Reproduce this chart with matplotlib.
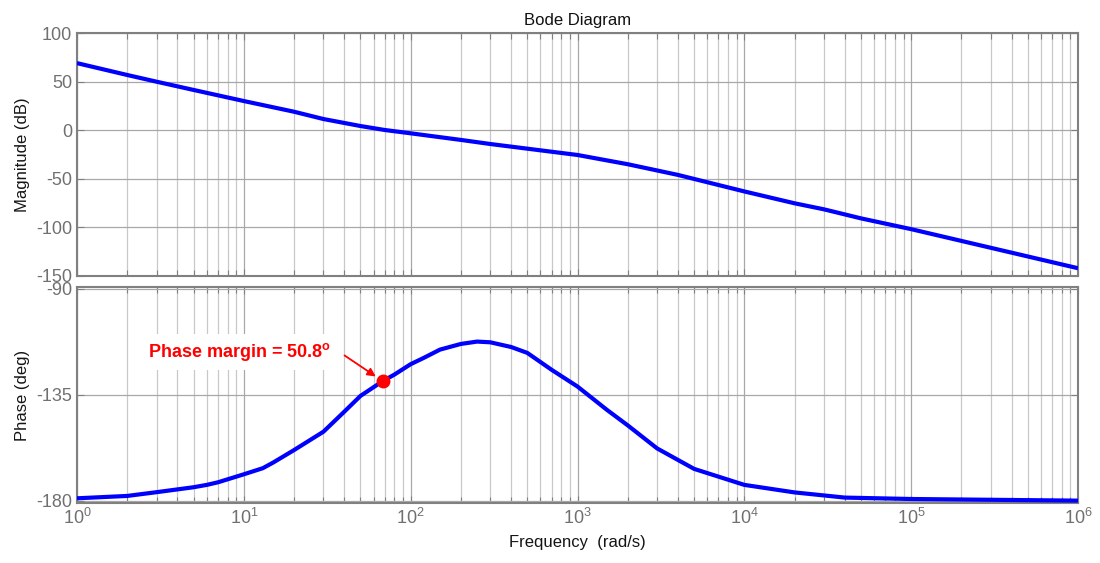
import numpy as np
import matplotlib
matplotlib.use("Agg")
import matplotlib.pyplot as plt
from matplotlib.ticker import LogLocator, FixedLocator, LogFormatterSciNotation, NullFormatter

plt.rcParams['font.family'] = ['Liberation Sans', 'DejaVu Sans']
plt.rcParams['mathtext.fontset'] = 'custom'
plt.rcParams['mathtext.rm'] = 'Liberation Sans'
plt.rcParams['mathtext.bf'] = 'Liberation Sans:bold'
plt.rcParams['mathtext.it'] = 'Liberation Sans:italic'
plt.rcParams['axes.unicode_minus'] = False

# ---- data ----
mag_freq = [1, 2, 3, 5, 10, 20, 30, 50, 70, 100, 200, 300, 500, 1000, 2000,
            4000, 10000, 20000, 30000, 50000, 100000, 1000000]
mag_db = [69, 56.8, 49.9, 41.4, 30, 19, 11.5, 4.3, 0.2, -3.2, -10, -14.2, -19,
          -25.5, -35, -46, -63, -75.2, -81.4, -90.7, -101.8, -142]

ph_freq = [1, 2, 3, 5, 6, 7, 10, 13, 15, 20, 30, 40, 50, 68, 80, 100, 120, 150,
           200, 250, 300, 400, 500, 700, 1000, 1500, 2000, 3000, 4000, 5000,
           10000, 20000, 40000, 100000, 1000000]
ph_deg = [-179, -178, -176.4, -174.3, -173.3, -172.2, -168.8, -166.2, -163.8,
          -158.5, -150.7, -142.2, -135.5, -129.2, -126.4, -122, -119.3, -115.8,
          -113.4, -112.4, -112.7, -114.7, -117.2, -124.4, -131.5, -141.4,
          -148, -157.8, -162.7, -166.5, -173.3, -176.5, -178.7, -179.3, -180]

pm_freq = 68
pm_phase = -129.2
pm_label = r'Phase margin = 50.8$^{\mathbf{o}}$'

title = 'Bode Diagram'
mag_ylabel = 'Magnitude (dB)'
ph_ylabel = 'Phase (deg)'
xlabel = 'Frequency  (rad/s)'
mag_ticks = [-150, -100, -50, 0, 50, 100]
ph_ticks = [-180, -135, -90]

# ---- figure ----
W, H = 1100, 563
fig = plt.figure(figsize=(W / 100, H / 100), dpi=100)
ax1 = fig.add_axes([77 / W, 1 - 276 / H, 1001 / W, 243 / H])
ax2 = fig.add_axes([77 / W, 1 - 503 / H, 1001 / W, 216 / H])

spine_col = '#808080'
tick_col = '#707070'
blue = '#0000ff'

for ax in (ax1, ax2):
    ax.set_xscale('log')
    ax.set_xlim(1, 1e6)
    ax.xaxis.set_major_locator(LogLocator(base=10, numticks=10))
    ax.xaxis.set_minor_locator(LogLocator(base=10, subs=np.arange(2, 10), numticks=100))
    ax.xaxis.set_minor_formatter(NullFormatter())
    for s in ax.spines.values():
        s.set_color(spine_col)
        s.set_linewidth(1.5)
    ax.tick_params(which='both', direction='in', top=True, right=True,
                   colors=spine_col, labelcolor=tick_col, labelsize=13)
    ax.tick_params(which='major', length=5, width=0.8)
    ax.tick_params(which='minor', length=4, width=0.8)
    ax.grid(which='major', color='#a8a8a8', linewidth=0.9)
    ax.grid(which='minor', axis='x', color='#c8c8c8', linewidth=0.9)
    ax.set_axisbelow(True)

ax1.plot(mag_freq, mag_db, color=blue, linewidth=3, solid_capstyle='butt', zorder=3)
ax1.set_ylim(-150, 100)
ax1.yaxis.set_major_locator(FixedLocator(mag_ticks))
ax1.xaxis.set_major_formatter(NullFormatter())
ax1.set_ylabel(mag_ylabel, fontsize=12, color='#151515')
ax1.set_title(title, fontsize=12, color='#101010', pad=6)

ax2.plot(ph_freq, ph_deg, color=blue, linewidth=3, solid_capstyle='butt', zorder=3)
ax2.set_ylim(-181, -89.2)
ax2.yaxis.set_major_locator(FixedLocator(ph_ticks))
ax2.xaxis.set_major_formatter(LogFormatterSciNotation())
ax2.set_ylabel(ph_ylabel, fontsize=12, color='#151515')
ax2.set_xlabel(xlabel, fontsize=12, color='#151515', labelpad=5)
ax1.yaxis.set_label_coords(-0.047, 0.5)
ax2.yaxis.set_label_coords(-0.047, 0.5)

# phase margin marker, arrow and label
ax2.plot([pm_freq], [pm_phase], 'o', color='#ff0000', markersize=9, zorder=5)
ax2.annotate('', xy=(pm_freq, pm_phase), xycoords='data',
             xytext=(-27.5, 18.5), textcoords='offset points',
             arrowprops=dict(arrowstyle='-|>', color='#ff0000', lw=1.3,
                             mutation_scale=12, shrinkA=0, shrinkB=6),
             zorder=6)
ax2.annotate(pm_label, xy=(pm_freq, pm_phase), xycoords='data',
             xytext=(-37, 21), textcoords='offset points',
             fontsize=13, fontweight='bold', color='#ff0000',
             ha='right', va='center',
             bbox=dict(boxstyle='square,pad=0.4', fc='white', ec='none'),
             zorder=6)

fig.savefig('out.png', dpi=100)
